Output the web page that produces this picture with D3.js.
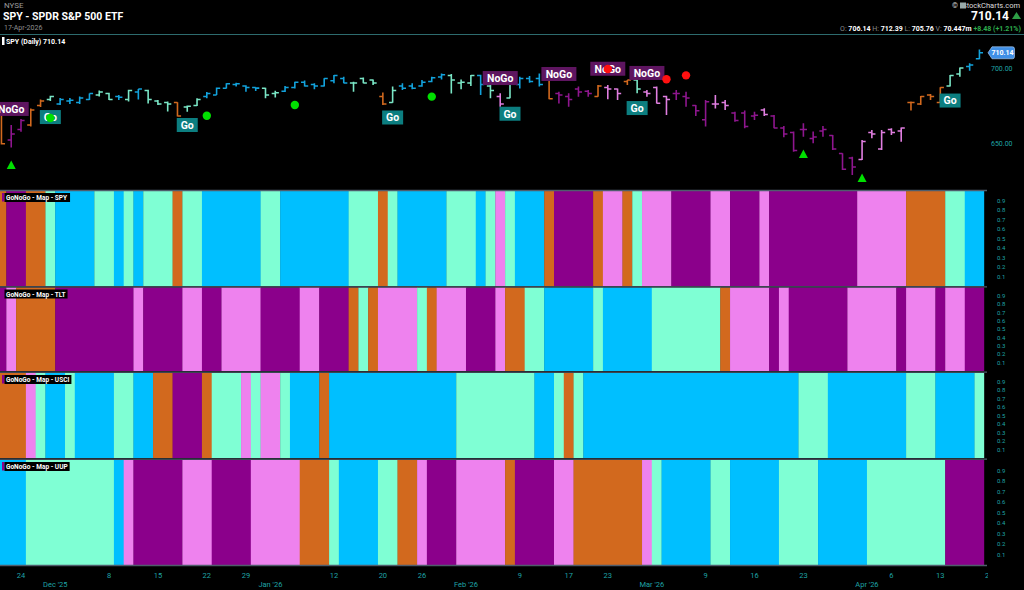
<!DOCTYPE html>
<html>
<head>
<meta charset="utf-8">
<script src="https://cdn.jsdelivr.net/npm/d3@7"></script>
<style>
html, body {margin:0; padding:0; background:#000; overflow:hidden;}
svg {display:block; font-family:Roboto, "Liberation Sans", sans-serif;}
</style>
</head>
<body>
<div id="chart"></div>
<script>
// trading calendar (last date is only used for the cut-off "20" tick)
var firstDay = "2025-11-20", lastDay = "2026-04-20"
var holidays = ["2025-11-27", "2025-12-25", "2026-01-01", "2026-01-19", "2026-02-16", "2026-04-03"]

// SPY daily bars, 20-Nov-2025 .. 17-Apr-2026
var opens  = [670, 652, 659, 662, 675, 679, 676, 678, 677, 679, 682, 683, 681, 679, 684, 685, 678, 677, 677, 674,
              675, 681, 682, 686.5, 689, 688, 687, 686.5, 683, 684.5, 687, 690.5, 689, 688, 691.5, 693, 690, 693, 692, 681,
              677, 688, 688, 688, 691, 694, 695, 690, 690, 695, 688, 681, 680, 689, 693, 693, 692, 683, 681, 686,
              684.5, 681, 687, 686, 691, 692, 684, 687, 681, 683, 681, 675, 665.5, 676, 677, 670, 670, 668, 672, 668,
              660, 657, 659, 653, 658, 655, 643, 640, 639, 657, 646, 659, 658, 677, 676, 682, 677, 688, 696, 701, 706.14]
var highs  = [672, 662, 666, 673, 679, 681.5, 680, 680, 681, 683, 685, 683.5, 682, 685.5, 686, 685.5, 678.7, 677.6, 677.2, 675,
              679.8, 684, 687, 689.8, 690.2, 688.5, 687.2, 686.8, 684.9, 688, 690.9, 691.6, 689.8, 693.1, 695.3, 694.2, 690.9, 693.6, 692.4, 683.6,
              687.6, 689.8, 689.8, 692, 694.2, 696.4, 696, 692.4, 695.3, 695.5, 690.9, 683.1, 691, 694.2, 694.7, 696.4, 693.1, 684.2, 683.1, 687.6,
              685.3, 688.7, 688.7, 686.4, 692, 692.4, 685.3, 687.6, 681.5, 685.3, 684.2, 675.3, 678.7, 682, 678.7, 670.9, 671.6, 670.9, 673.1, 668.7,
              661.3, 657.6, 663.1, 657.6, 661.3, 655.3, 643.1, 640.9, 652, 658.7, 658.7, 659.8, 660.4, 677.6, 681.3, 682.7, 687.1, 695.3, 700.4, 703.1, 712.39]
var lows   = [649, 647, 657.5, 661, 674, 678, 675.3, 676, 676, 678.6, 681, 678.7, 678.7, 677.6, 679, 676.4, 675.3, 671, 667.6, 670.9,
              674.7, 679.8, 682, 686.4, 687.6, 684.2, 684.7, 679.8, 680.4, 684, 686.4, 687.6, 685.8, 687.6, 689.8, 689.8, 684.2, 689.8, 688.7, 675.3,
              676.9, 685.3, 685.8, 687.5, 690.5, 692.4, 683, 685.8, 688, 682, 679.8, 674.2, 679.8, 686.4, 690.2, 687.6, 679.1, 676.4, 674.2, 680.9,
              680.9, 680.9, 679.1, 678.7, 688.7, 683.1, 680.9, 676.4, 668.7, 678.7, 674.2, 668, 661, 673, 672, 664.2, 659.8, 665.3, 668, 659.8,
              653.8, 644.2, 654.2, 649.8, 654.2, 645.3, 632, 628.7, 638.7, 653.1, 645.3, 655.3, 650.9, 671.6, 675.3, 678.7, 677, 687.6, 694.2, 698.2, 705.76]
var closes = [649.5, 656, 665, 672, 678, 681, 679, 678.5, 680, 683, 684, 679, 680.5, 685, 686, 679, 676, 676, 668, 674.5,
              679, 683, 686.5, 689.5, 689.5, 687, 686.6, 682, 683.5, 687, 690.5, 688, 688, 693, 695, 690, 690, 690, 690, 676,
              685, 686.5, 686.5, 690.5, 693.5, 695.5, 692, 690.5, 695, 689, 685, 676, 690, 693, 691, 689, 679.5, 682, 679, 684,
              683, 688, 686, 683, 692, 686, 683, 676.5, 679, 683, 680, 671.5, 677.5, 676, 675, 665, 661, 668.5, 669, 660,
              656, 645, 659, 654, 659, 646, 632.5, 634, 651, 656, 657, 657, 660, 677, 681, 681, 687, 695, 700, 702, 710.14]

// GoNoGo map rows, one letter per session:
// B = Go strong, A = Go weak, O = amber, P = NoGo weak, M = NoGo strong
var spyMap  = "OMMOOA BBBB AA B A B AAA O AA BBBBBB AA BBBBBBB AAA O A BBBBB AAA B A P A BBB O MMMM O PP O A PPP MMMM PP MMM P MMMMMMMMM PPPPP OOOO AA BB"
var tltMap  = "M P OOOO MMMMMMMM P MMMM PP MM PPPP MMMM PP MMM O A O PPPP A O PPP MMM P OO AA BBBBB A BBBBB AAAAAAA O PPPP M P MMMMMM PPPPP M PPP M PP MM"
var usciMap = "OOO P A BB A BBBB AA BB OO MMM O AAA P A PP A BBB O BBBBBBBBBBBBB AAAAAAAA BB A O A BBBBBBBBBBBBBBBBBBBBBB AAA BBBBBBBB AAA BBBB A"
var uupMap  = "BBB AAAAAAAAA B P MMMMM PPP MMMM PPPPP OOO A BBBB AA OO P MMM PPPPP O MMMM PP OOOOOOO P A BBBBB AA BBBBB AAAA BBBBB AAAAAAAA MMMM"

// signals on the price panel (date, price level)
var goDates     = ["2025-11-28", "2025-12-18", "2026-01-21", "2026-02-06", "2026-02-26", "2026-04-14"]
var goLevels    = [667.3, 662, 667, 669.5, 673.3, 678.3]
var noGoDates   = ["2025-11-21", "2026-02-05", "2026-02-13", "2026-02-23", "2026-02-27"]
var noGoLevels  = [672.7, 693.3, 696, 699.5, 696.7]
var greenDates  = ["2025-11-28", "2025-12-22", "2026-01-06", "2026-01-27"]
var greenLevels = [666.7, 668.2, 675.3, 680.9]
var redDates    = ["2026-02-23", "2026-03-03", "2026-03-05"]
var redLevels   = [699.3, 692.5, 695.1]
var triDates    = ["2025-11-21", "2026-03-23", "2026-03-31"]
var triLevels   = [635.3, 642.7, 626.7]

// axis labels
var dayTicks   = ["2025-11-24", "2025-12-08", "2025-12-15", "2025-12-22", "2025-12-29", "2026-01-12", "2026-01-20", "2026-01-26",
                  "2026-02-09", "2026-02-17", "2026-02-23", "2026-03-09", "2026-03-16", "2026-03-23", "2026-04-06", "2026-04-13", "2026-04-20"]
var monthTicks = ["2025-12-01", "2026-01-02", "2026-02-02", "2026-03-02", "2026-04-01"]
var monthNames = ["Dec '25", "Jan '26", "Feb '26", "Mar '26", "Apr '26"]
var priceTicks = [650, 700]
var mapTicks   = [0.1, 0.2, 0.3, 0.4, 0.5, 0.6, 0.7, 0.8, 0.9]

// layout
var W = 1024, H = 590, plotRight = 984.3
var mapColor = {B:"#00bfff", A:"#7fffd4", O:"#d2691e", P:"#ee82ee", M:"#8b008b"}
var barColor = {B:"#12a2dc", A:"#7ae6c6", O:"#d2691e", P:"#e07ee0", M:"#8e168e"}
var axisColor = "#1fa3a6"

var parse = d3.timeParse("%Y-%m-%d"), fmt = d3.timeFormat("%Y-%m-%d")
var dates = d3.timeDay.range(parse(firstDay), d3.timeDay.offset(parse(lastDay), 1))
    .filter(d => d.getDay() != 0 && d.getDay() != 6 && !holidays.includes(fmt(d)))
    .map(fmt)

var x = d3.scaleBand().domain(dates).range([-3.45, 994.1])
var step = x.step()
var cx = d => x(d) + step / 2
var y = d3.scaleLinear().domain([650, 700]).range([143, 68])

var svg = d3.select("#chart").append("svg")
    .attr("width", W)
    .attr("height", H)
svg.append("rect").attr("width", W).attr("height", H).attr("fill", "#000")

var defs = svg.append("defs")
defs.append("clipPath").attr("id", "plotclip")
    .append("rect").attr("x", 0).attr("y", 35).attr("width", plotRight).attr("height", 540)
defs.append("clipPath").attr("id", "axisclip")
    .append("rect").attr("x", 0).attr("y", 566).attr("width", 988).attr("height", 24)

// ---- header
svg.append("text").attr("x", 4).attr("y", 8).attr("fill", "#9a9a9a").style("font-size", "8px").text("NYSE")
svg.append("text").attr("x", 3).attr("y", 20).attr("fill", "#fff").style("font-size", "10.5px").style("font-weight", "bold")
    .text("SPY - SPDR S&P 500 ETF")
svg.append("text").attr("x", 4).attr("y", 30).attr("fill", "#8f8f8f").style("font-size", "7px").text("17-Apr-2026")
svg.append("line").attr("x1", 0).attr("x2", W).attr("y1", 34.5).attr("y2", 34.5)
    .attr("stroke", "#2d6b6e").attr("stroke-width", 1.2)

svg.append("rect").attr("x", 2).attr("y", 37).attr("width", 2.5).attr("height", 8).attr("fill", "#fff")
svg.append("text").attr("x", 6).attr("y", 44).attr("fill", "#fff").style("font-size", "7px").style("font-weight", "bold")
    .text("SPY (Daily) " + closes[closes.length - 1].toFixed(2))

var last = closes[closes.length - 1]
svg.append("text").attr("x", 1020).attr("y", 8).attr("text-anchor", "end").attr("fill", "#ddd").style("font-size", "7.5px")
    .text("StockCharts.com")
svg.append("rect").attr("x", 960).attr("y", 2.5).attr("width", 6).attr("height", 6).attr("fill", "#9aa")
svg.append("text").attr("x", 952).attr("y", 8).attr("fill", "#ddd").style("font-size", "7.5px").text("©")
svg.append("text").attr("x", 1009).attr("y", 20).attr("text-anchor", "end").attr("fill", "#fff")
    .style("font-size", "12px").style("font-weight", "bold").text(last.toFixed(2))
svg.append("path").attr("d", "M1012,19 L1016.5,12 L1021,19 Z").attr("fill", "#2e9e46")

var hdr = svg.append("text").attr("x", 1021).attr("y", 31).attr("text-anchor", "end").style("font-size", "7px")
var hdrParts = [["O: ", opens], ["H: ", highs], ["L: ", lows]]
hdrParts.forEach(function(p){
    hdr.append("tspan").attr("fill", "#8a8a8a").text(p[0])
    hdr.append("tspan").attr("fill", "#fff").style("font-weight", "bold").text(p[1][p[1].length - 1].toFixed(2) + "   ")
})
hdr.append("tspan").attr("fill", "#8a8a8a").text("V: ")
hdr.append("tspan").attr("fill", "#fff").style("font-weight", "bold").text("70.447m  ")
hdr.append("tspan").attr("fill", "#2eae4e").style("font-weight", "bold").text("+8.48 (+1.21%)")

// ---- price panel
var spyCodes = spyMap.replace(/ /g, "")
var pricePlot = svg.append("g").attr("clip-path", "url(#plotclip)")
var bars = dates.slice(0, closes.length).map(function(d, i){
    return {date:d, o:opens[i], h:highs[i], l:lows[i], c:closes[i], code:spyCodes[i]}
})
pricePlot.append("g").selectAll("path")
    .data(bars)
    .enter()
    .append("path")
    .attr("d", function(b){
        var m = cx(b.date)
        return "M" + m + "," + y(b.h) + "V" + y(b.l) +
               "M" + (m - 3.6) + "," + y(b.o) + "H" + m +
               "M" + m + "," + y(b.c) + "H" + (m + 3.6)
    })
    .attr("stroke", b => barColor[b.code])
    .attr("stroke-width", 1.6)
    .attr("fill", "none")

function tagBox(g, dList, lvls, txt, w, fill){
    g.selectAll(null)
        .data(dList.map((d, i) => ({d:d, p:lvls[i]})))
        .enter()
        .each(function(s){
            var e = d3.select(this)
            e.append("rect")
                .attr("x", cx(s.d) - w / 2).attr("y", y(s.p) - 7)
                .attr("width", w).attr("height", 14)
                .attr("fill", fill)
            e.append("text")
                .attr("x", cx(s.d)).attr("y", y(s.p) + 3.8)
                .attr("text-anchor", "middle").attr("fill", "#fff")
                .style("font-size", "10.5px").style("font-weight", "bold")
                .text(txt)
        })
}
var sig = pricePlot.append("g")
tagBox(sig.append("g"), goDates, goLevels, "Go", 21, "#0c7e80")
tagBox(sig.append("g"), noGoDates, noGoLevels, "NoGo", 35, "#5e1560")

sig.append("g").selectAll("circle")
    .data(greenDates.map((d, i) => ({d:d, p:greenLevels[i]})))
    .enter().append("circle")
    .attr("cx", s => cx(s.d)).attr("cy", s => y(s.p)).attr("r", 4.2).attr("fill", "#00e000")
sig.append("g").selectAll("circle")
    .data(redDates.map((d, i) => ({d:d, p:redLevels[i]})))
    .enter().append("circle")
    .attr("cx", s => cx(s.d)).attr("cy", s => y(s.p)).attr("r", 4.2).attr("fill", "#ff1010")
sig.append("g").selectAll("path")
    .data(triDates.map((d, i) => ({d:d, p:triLevels[i]})))
    .enter().append("path")
    .attr("d", s => "M" + (cx(s.d) - 4.5) + "," + (y(s.p) + 4) + "L" + cx(s.d) + "," + (y(s.p) - 4.5) +
                    "L" + (cx(s.d) + 4.5) + "," + (y(s.p) + 4) + "Z")
    .attr("fill", "#00e000")

// price axis
svg.append("g").selectAll("text")
    .data(priceTicks)
    .enter().append("text")
    .attr("x", 991).attr("y", p => y(p) + 2.5)
    .attr("fill", axisColor).style("font-size", "7px")
    .text(p => p.toFixed(2))

var ly = y(last)
svg.append("path")
    .attr("d", "M988," + ly + "L992," + (ly - 6) + "H1012.5Q1014.5," + (ly - 6) + " 1014.5," + (ly - 4) +
               "V" + (ly + 4) + "Q1014.5," + (ly + 6) + " 1012.5," + (ly + 6) + "H992Z")
    .attr("fill", "#3f8fe6").attr("stroke", "#bcd8f6").attr("stroke-width", 0.6)
svg.append("text").attr("x", 1002.5).attr("y", ly + 2.6).attr("text-anchor", "middle")
    .attr("fill", "#fff").style("font-size", "7px").style("font-weight", "bold").text(last.toFixed(2))

// ---- GoNoGo map panels
var panels = [
    {name:"SPY",  top:191, bottom:286, codes:spyMap},
    {name:"TLT",  top:287.5, bottom:371, codes:tltMap},
    {name:"USCI", top:373, bottom:458, codes:usciMap},
    {name:"UUP",  top:460, bottom:565, codes:uupMap}
]

// group consecutive sessions with the same colour into one block
function runs(codes){
    var out = []
    codes.forEach(function(c, i){
        if (out.length && out[out.length - 1].c == c) out[out.length - 1].n += 1
        else out.push({c:c, start:dates[i], n:1})
    })
    return out
}

panels.forEach(function(pn){
    var codes = pn.codes.replace(/ /g, "").split("")
    var py = d3.scaleLinear().domain([0, 1]).range([pn.bottom, pn.top])
    var g = svg.append("g")
    g.append("g").attr("clip-path", "url(#plotclip)")
        .selectAll("rect")
        .data(runs(codes))
        .enter().append("rect")
        .attr("x", s => x(s.start))
        .attr("width", s => s.n * step + 0.3)
        .attr("y", py(1))
        .attr("height", py(0) - py(1))
        .attr("fill", s => mapColor[s.c])

    g.selectAll("text.tick")
        .data(mapTicks)
        .enter().append("text")
        .attr("class", "tick")
        .attr("x", 997).attr("y", t => py(t) + 2)
        .attr("fill", axisColor).style("font-size", "6px")
        .text(d3.format(".1f"))

    g.append("rect").attr("x", 2).attr("y", pn.top + 2).attr("width", 2.5).attr("height", 8.5).attr("fill", "#8b008b")
    var lbl = g.append("text")
        .attr("x", 6).attr("y", pn.top + 9)
        .attr("fill", "#fff").style("font-size", "6.5px").style("font-weight", "bold")
        .text("GoNoGo - Map - " + pn.name)
    var bb = lbl.node().getBBox()
    g.insert("rect", "text:last-of-type")
        .attr("x", 4.5).attr("y", pn.top + 2)
        .attr("width", bb.width + 3.5).attr("height", 9)
        .attr("fill", "#000")
    lbl.raise()
})

// panel separators
svg.append("g").selectAll("line")
    .data([190.5, 286.8, 372.2, 459.2, 565.5])
    .enter().append("line")
    .attr("x1", 0).attr("x2", 987).attr("y1", d => d).attr("y2", d => d)
    .attr("stroke", "#4f5d6c").attr("stroke-width", 1.3)

// ---- date axis
var xa = svg.append("g").attr("clip-path", "url(#axisclip)")
xa.selectAll("text.day")
    .data(dayTicks)
    .enter().append("text")
    .attr("class", "day")
    .attr("x", d => cx(d)).attr("y", 577.5)
    .attr("text-anchor", "middle").attr("fill", axisColor).style("font-size", "7.5px")
    .text(d => parse(d).getDate())
xa.selectAll("text.month")
    .data(monthTicks)
    .enter().append("text")
    .attr("class", "month")
    .attr("x", d => x(d)).attr("y", 586.5)
    .attr("text-anchor", "middle").attr("fill", axisColor).style("font-size", "7.5px")
    .text((d, i) => monthNames[i])
</script>
</body>
</html>
